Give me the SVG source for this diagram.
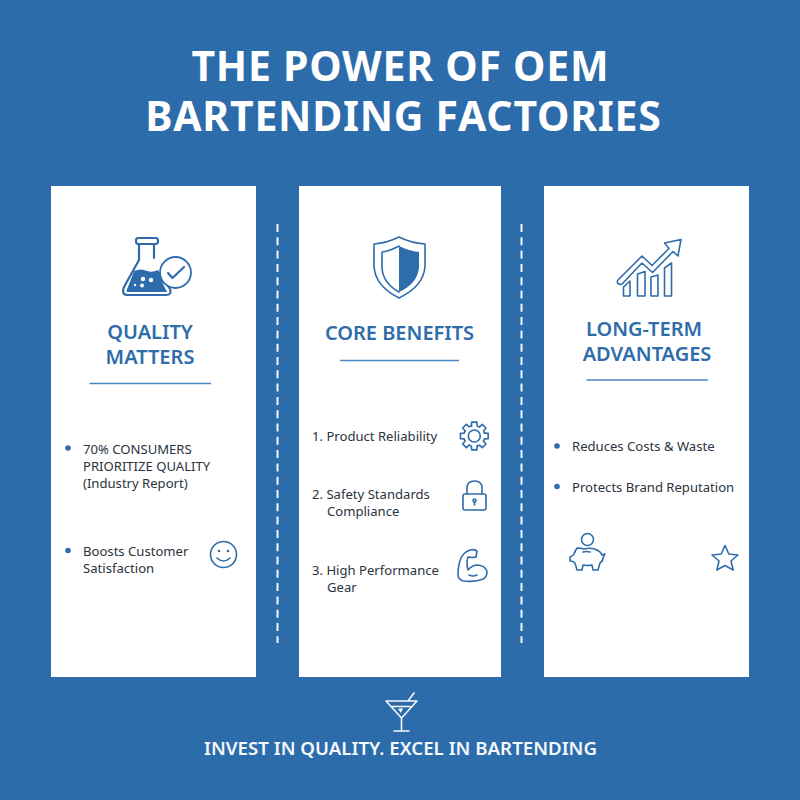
<svg xmlns="http://www.w3.org/2000/svg" width="800" height="800" viewBox="0 0 800 800">
<style>
text{font-family:"Noto Sans","Liberation Sans",sans-serif}
.t{font-size:41px;font-weight:700;fill:#fff;text-anchor:middle;letter-spacing:.75px}
.h{font-size:20px;font-weight:600;fill:#2e6cab;text-anchor:middle}
.b{font-size:13.100px;fill:#2b3340}
.f{font-size:18.700px;font-weight:600;fill:#f4f8fc;text-anchor:middle}
.card{fill:#fff}
.rule{stroke:#4a86c0;stroke-width:1.3;fill:none}
.dash{stroke:#f2f6fb;stroke-width:2;stroke-dasharray:8 5.300;fill:none}
.i{fill:none;stroke:#2e6cab;stroke-width:1.6;stroke-linejoin:round;stroke-linecap:round}
.k{stroke-width:2.200}
.s{fill:#2e6cab;stroke:none}
.w{fill:none;stroke:#f4f8fc;stroke-width:1.6;stroke-linejoin:round;stroke-linecap:round}
.d{fill:#2e6cab}
</style>
<defs>
<path id="tooth" class="i" d="M-2.900-10.100L-2.600-13.900H2.600L2.900-10.100A10.500 10.500 0 0 1 5.250-9.090"/>
</defs>
<rect width="800" height="800" fill="#2c6cab"/>
<g id="title"><text class="t" x="400.400" y="81">THE POWER OF OEM</text><text class="t" x="403.400" y="131">BARTENDING FACTORIES</text></g>
<g id="connectors"><line class="dash" x1="277.500" y1="224" x2="277.500" y2="643"/><line class="dash" x1="521.500" y1="224" x2="521.500" y2="643"/></g>
<g id="card-quality">
<rect class="card" x="51" y="186" width="205" height="491"/>
<path class="i k" d="M139 244V260L124 287Q121 295 128 295H166Q172 295 170 289L166 283M154 244V258M138 238H156Q158 238 158 241Q158 244 156 244H138Q136 244 136 241Q136 238 138 238Z"/>
<path class="s" d="M134 271Q141 268 147 271Q152 273 158 270L161 275L163 284L167 292H127Q126 291 128 287Z"/>
<circle cx="143" cy="279" r="2.200" fill="#fff"/><circle cx="151" cy="280" r="2.200" fill="#fff"/><circle cx="142" cy="285.500" r="2" fill="#fff"/><circle cx="135" cy="285" r="1.200" fill="#fff"/>
<circle cx="175.500" cy="272.500" r="15.500" fill="#fff" stroke="#2e6cab" stroke-width="1.800"/><path class="i k" d="M168 273L172.500 278L184 267"/>
<text class="h" x="150" y="339">QUALITY</text><text class="h" x="150" y="364">MATTERS</text>
<line class="rule" x1="89.500" y1="383.500" x2="211" y2="383.500"/>
<circle class="d" cx="68" cy="448" r="2.800"/>
<text class="b" x="83" y="454">70% CONSUMERS</text><text class="b" x="83" y="471">PRIORITIZE QUALITY</text><text class="b" x="83" y="488">(Industry Report)</text>
<circle class="d" cx="68" cy="550.500" r="2.800"/>
<text class="b" x="83" y="556">Boosts Customer</text><text class="b" x="83" y="573">Satisfaction</text>
<circle class="i" cx="223.500" cy="554.500" r="13"/><circle class="s" cx="219" cy="551" r="1.300"/><circle class="s" cx="228" cy="551" r="1.300"/><path class="i" d="M217 558Q223.500 564 230 558"/>
</g>
<g id="card-benefits">
<rect class="card" x="299" y="186" width="202" height="491"/>
<path class="i" d="M399 237Q411 243 425 244V266Q424 286 399 298Q375 286 374 266V244Q387 243 399 237Z"/>
<path class="i" d="M399 246Q390 251 382 252V268Q383 283 399 292"/>
<path class="s" d="M399 246Q409 251 419 252V268Q417 284 399 292Z"/>
<text class="h" x="399.500" y="340">CORE BENEFITS</text>
<line class="rule" x1="340" y1="360.500" x2="459" y2="360.500"/>
<text class="b" x="312" y="441">1. Product Reliability</text>
<g transform="translate(474.300 436)"><use href="#tooth"/><use href="#tooth" transform="rotate(45)"/><use href="#tooth" transform="rotate(90)"/><use href="#tooth" transform="rotate(135)"/><use href="#tooth" transform="rotate(180)"/><use href="#tooth" transform="rotate(225)"/><use href="#tooth" transform="rotate(270)"/><use href="#tooth" transform="rotate(315)"/><circle class="i" r="6"/></g>
<text class="b" x="312" y="499">2. Safety Standards</text><text class="b" x="327" y="516">Compliance</text>
<path class="i" d="M467 494V488Q467 481 474.500 481Q482 481 482 488V494M465 494H484Q486 494 486 496V508Q486 510 484 510H465Q463 510 463 508V496Q463 494 465 494Z"/>
<circle class="i" cx="474.500" cy="500.500" r="1.500"/><path class="i" d="M474.500 502V505"/>
<text class="b" x="312" y="575">3. High Performance</text><text class="b" x="327" y="592">Gear</text>
<path class="i" d="M463 581Q458 579 458 575Q458 565 461 558Q464 552 470 550Q474 549 477 551L476 557Q473 558 468 557Q466 563 468 570Q472 565 478 565Q486 566 487 572Q487 579 480 580Q474 582 463 581Z"/>
<path class="i" d="M469 575Q473 577 477 575"/>
</g>
<g id="card-advantages">
<rect class="card" x="544" y="186" width="205" height="491"/>
<path class="i" d="M618 280L642 256L652 265.500L669 248.500L664.500 243L681 239.500L678 256L673 251.500L652.500 272.500L642 263L622 284Q619 285 617.500 283Q617 281 618 280Z"/>
<path class="i" d="M623.500 296V287L630 281V296ZM637.500 296V274L645 271.500V296ZM651 296V277L658 275V296ZM664.500 296V268L671.500 263V296Z"/>
<text class="h" x="644" y="336">LONG-TERM</text><text class="h" x="647" y="361">ADVANTAGES</text>
<line class="rule" x1="586.500" y1="380" x2="708" y2="380"/>
<circle class="d" cx="557" cy="446" r="2.800"/><text class="b" x="572" y="451">Reduces Costs &amp; Waste</text>
<circle class="d" cx="557" cy="486.500" r="2.800"/><text class="b" x="572" y="492">Protects Brand Reputation</text>
<circle class="i" cx="587.500" cy="539.500" r="6"/>
<path class="i" d="M577 548Q581 548 584 549Q592 547 597 550Q601 552 602 555L605 554L603 558Q603 561 600 563L598 570H593L592 565Q587 566 583 565L582 570H577L575 563Q573 561 570 561V557Q573 556 574 554Q575 551 577 548Z"/>
<path class="i" d="M583 552Q587 551 590 552"/>
<path class="i" d="M725 545.500L728.800 554L738 555L731 561L733.200 570L725 565.500L716.800 570L719 561L712 555L721.200 554Z"/>
</g>
<g id="footer">
<path class="w" d="M386 701H417L401.500 718ZM401.500 718V731M394 731H409M408 701L414 693M392 706.500H410"/>
<path d="M398 709L403 708L401 713Z" fill="#f4f8fc"/>
<text class="f" x="400.500" y="755">INVEST IN QUALITY. EXCEL IN BARTENDING</text>
</g>
</svg>
